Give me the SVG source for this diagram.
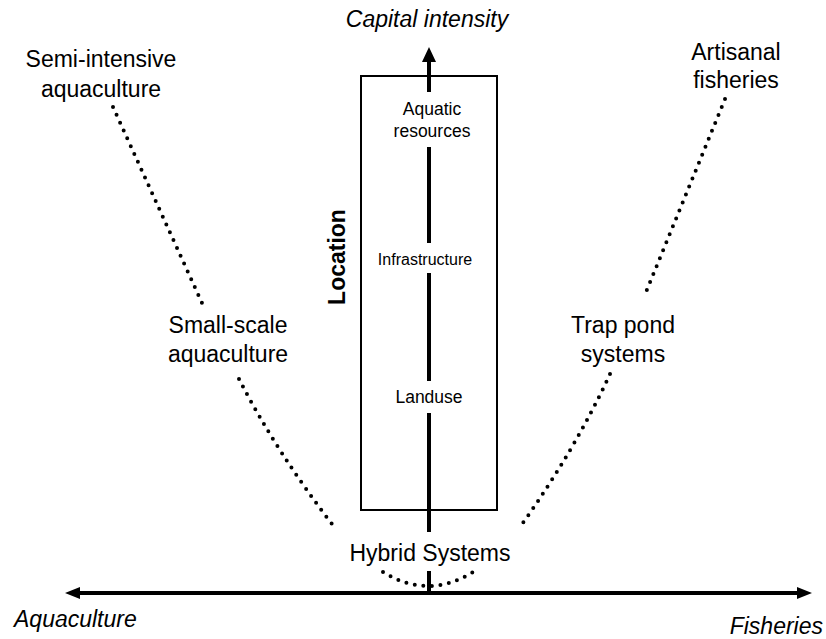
<svg xmlns="http://www.w3.org/2000/svg" width="826" height="639" viewBox="0 0 826 639">
<style>
text{font-family:"Liberation Sans",Arial,sans-serif;fill:#000}
.big{font-size:23px;text-anchor:middle}
.mid{font-size:17.5px;text-anchor:middle}
.it{font-style:italic;font-size:23px}
.dot{fill:none;stroke:#000;stroke-width:4;stroke-linecap:round;stroke-dasharray:0 8.6}
.axis{stroke:#000;stroke-width:4;fill:none}
</style>
<rect width="826" height="639" fill="#fff"/>
<g id="connectors">
<path class="dot" d="M113,107 L202,303"/>
<path class="dot" d="M239,379 Q277,453 335,528"/>
<path class="dot" d="M725,99 L644,297"/>
<path class="dot" d="M610,374 Q575,450 520,527"/>
<path class="dot" d="M383,572 Q428,600 473,572"/>
</g>
<g id="axes">
<line class="axis" x1="78" y1="593" x2="798" y2="593"/>
<polygon points="65,593 80,587 80,599"/>
<polygon points="812,593 797,587 797,599"/>
<line class="axis" x1="429" y1="593" x2="429" y2="571"/>
<line class="axis" x1="429" y1="532" x2="429" y2="413"/>
<line class="axis" x1="429" y1="381" x2="429" y2="273"/>
<line class="axis" x1="429" y1="243" x2="429" y2="147"/>
<line class="axis" x1="429" y1="92" x2="429" y2="60"/>
<polygon points="422,62 436,62 429,47"/>
</g>
<g id="location-box">
<rect x="361" y="76" width="136" height="434" fill="none" stroke="#000" stroke-width="2"/>
<text transform="translate(345,257) rotate(-90)" style="font-size:23px;font-weight:bold;text-anchor:middle">Location</text>
</g>
<g id="capital-intensity"><text class="it" x="427" y="27" text-anchor="middle">Capital intensity</text></g>
<g id="semi-intensive"><text class="big" x="101" y="67">Semi-intensive</text><text class="big" x="101" y="97">aquaculture</text></g>
<g id="artisanal"><text class="big" x="736" y="60">Artisanal</text><text class="big" x="736" y="88">fisheries</text></g>
<g id="small-scale"><text class="big" x="228" y="333">Small-scale</text><text class="big" x="228" y="362">aquaculture</text></g>
<g id="trap-pond"><text class="big" x="623" y="333">Trap pond</text><text class="big" x="623" y="362">systems</text></g>
<g id="hybrid"><text class="big" x="430" y="561">Hybrid Systems</text></g>
<g id="aquatic-resources"><text class="mid" x="432" y="115">Aquatic</text><text class="mid" x="432" y="137">resources</text></g>
<g id="infrastructure"><text x="425" y="265" style="font-size:16px;text-anchor:middle">Infrastructure</text></g>
<g id="landuse"><text class="mid" x="429" y="403">Landuse</text></g>
<g id="aquaculture-end"><text class="it" x="14" y="627">Aquaculture</text></g>
<g id="fisheries-end"><text class="it" x="823" y="634" text-anchor="end">Fisheries</text></g>
</svg>
